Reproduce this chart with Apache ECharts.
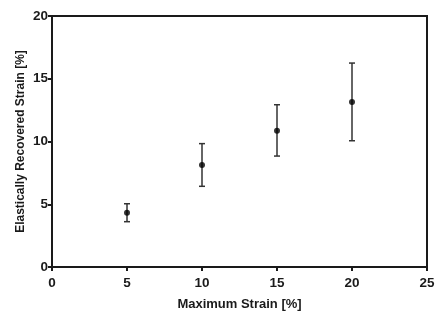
<!DOCTYPE html>
<html><head><meta charset="utf-8">
<script src="https://cdn.jsdelivr.net/npm/echarts@6/dist/echarts.min.js"></script>
<style>html,body{margin:0;padding:0;background:#fff}#c{width:447px;height:322px}</style>
</head><body><div id="c"></div>
<script>
const xValues = [5, 10, 15, 20];
const meanValues = [4.33, 8.13, 10.86, 13.15];
const errLow = [3.61, 6.43, 8.84, 10.06];
const errHigh = [5.04, 9.83, 12.93, 16.25];
const xTicks = [0, 5, 10, 15, 20, 25];
const yTicks = [0, 5, 10, 15, 20];

const chart = echarts.init(document.getElementById('c'));
const font = 'Liberation Sans, Arial, sans-serif';
const axisCommon = {
  axisLine: {show: true, onZero: false, lineStyle: {color: '#1a1a1a', width: 2}},
  axisTick: {show: true, inside: false, length: 4, lineStyle: {color: '#1a1a1a', width: 2}},
  axisLabel: {color: '#1a1a1a', fontFamily: font, fontWeight: 'bold', fontSize: 13.5},
  splitLine: {show: false},
  nameLocation: 'middle',
  nameMoveOverlap: false,
  nameTextStyle: {color: '#1a1a1a', fontFamily: font, fontWeight: 'bold', fontSize: 13}
};
chart.setOption({
  animation: false,
  grid: {left: 52, right: 20, top: 16, bottom: 55, show: true, borderColor: '#1a1a1a', borderWidth: 2},
  xAxis: Object.assign({}, axisCommon, {
    type: 'value', min: xTicks[0], max: xTicks[xTicks.length-1], interval: 5,
    name: 'Maximum Strain [%]', nameGap: 31,
    axisLabel: Object.assign({}, axisCommon.axisLabel, {margin: 9})
  }),
  yAxis: Object.assign({}, axisCommon, {
    type: 'value', min: yTicks[0], max: yTicks[yTicks.length-1], interval: 5,
    name: 'Elastically Recovered Strain [%]', nameGap: 25,
    nameTextStyle: Object.assign({}, axisCommon.nameTextStyle, {fontSize: 12}),
    axisLabel: Object.assign({}, axisCommon.axisLabel, {margin: 4})
  }),
  series: [
    {
      type: 'custom',
      data: xValues.map((x, i) => [x, errLow[i], errHigh[i]]),
      renderItem: function (params, api) {
        const x = api.value(0);
        const lo = api.coord([x, api.value(1)]);
        const hi = api.coord([x, api.value(2)]);
        const w = 3;
        const style = {stroke: '#333', lineWidth: 1.5};
        return {type: 'group', children: [
          {type: 'line', shape: {x1: lo[0], y1: lo[1], x2: hi[0], y2: hi[1]}, style: style},
          {type: 'line', shape: {x1: lo[0]-w, y1: lo[1], x2: lo[0]+w, y2: lo[1]}, style: style},
          {type: 'line', shape: {x1: hi[0]-w, y1: hi[1], x2: hi[0]+w, y2: hi[1]}, style: style}
        ]};
      },
      z: 2
    },
    {
      type: 'scatter',
      data: xValues.map((x, i) => [x, meanValues[i]]),
      symbol: 'circle', symbolSize: 6,
      itemStyle: {color: '#000'},
      z: 3
    }
  ]
});
</script></body></html>
